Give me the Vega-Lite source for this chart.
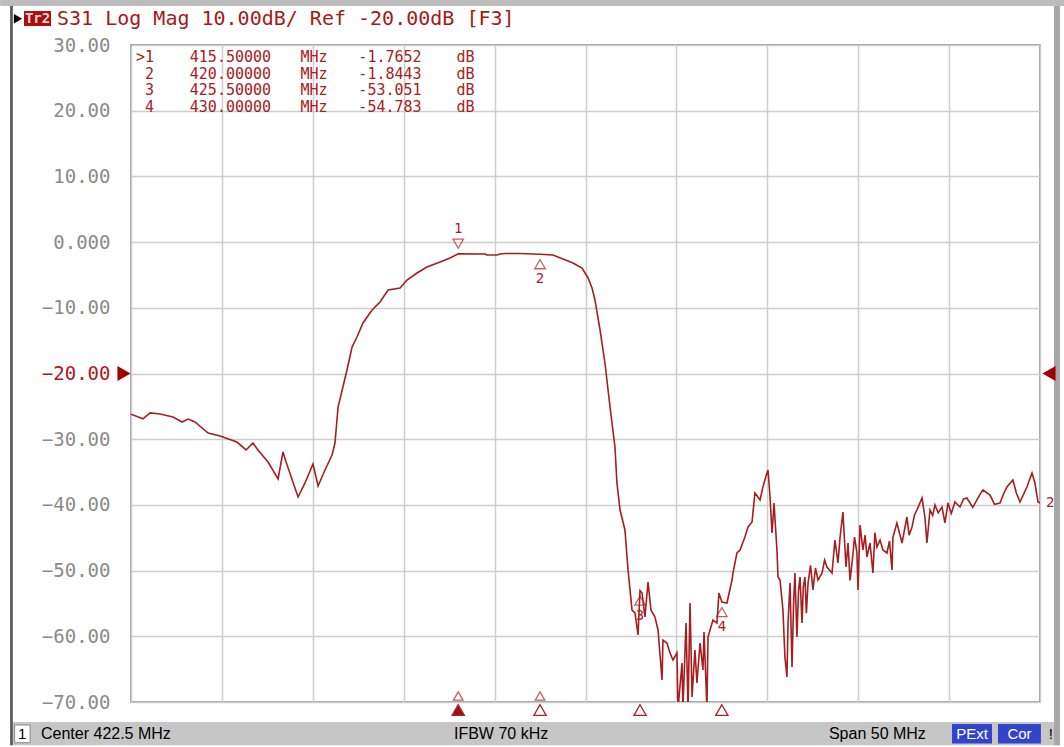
{
  "$schema": "https://vega.github.io/schema/vega-lite/v6.json",
  "width": 909,
  "height": 657,
  "autosize": {"type": "none"},
  "padding": {"left": 131, "top": 45, "right": 24, "bottom": 45},
  "background": "#ffffff",
  "config": {
    "view": {"stroke": "#808080", "strokeWidth": 1.5},
    "axis": {"domain": false, "ticks": false}
  },
  "datasets": {
    "trace": [
      {"f":397.50,"db":-26.2},{"f":398.16,"db":-26.9},{"f":398.55,"db":-26.0},{"f":399.10,"db":-26.16},{"f":399.81,"db":-26.62},
      {"f":400.31,"db":-27.38},{"f":400.64,"db":-26.93},{"f":401.02,"db":-27.38},{"f":401.74,"db":-29.06},{"f":402.40,"db":-29.51},
      {"f":403.33,"db":-30.43},{"f":403.83,"db":-31.64},{"f":404.21,"db":-30.58},{"f":404.48,"db":-31.64},{"f":405.04,"db":-33.47},
      {"f":405.59,"db":-36.06},{"f":405.86,"db":-31.95},{"f":406.03,"db":-33.47},{"f":406.69,"db":-38.80},{"f":407.07,"db":-36.66},
      {"f":407.51,"db":-33.77},{"f":407.79,"db":-37.12},{"f":408.17,"db":-34.69},{"f":408.56,"db":-32.41},{"f":408.72,"db":-30.58},
      {"f":408.89,"db":-25.10},{"f":409.05,"db":-23.27},{"f":409.38,"db":-19.47},{"f":409.66,"db":-15.97},{"f":409.93,"db":-14.45},
      {"f":410.26,"db":-12.31},{"f":410.76,"db":-10.33},{"f":411.20,"db":-9.12},{"f":411.64,"db":-7.29},{"f":412.30,"db":-6.99},
      {"f":412.68,"db":-5.77},{"f":413.23,"db":-4.70},{"f":413.78,"db":-3.79},{"f":414.50,"db":-3.03},{"f":415.05,"db":-2.42},
      {"f":415.50,"db":-1.77},{"f":416.97,"db":-1.81},{"f":417.08,"db":-1.96},{"f":417.63,"db":-1.96},{"f":417.80,"db":-1.81},
      {"f":418.07,"db":-1.74},{"f":418.90,"db":-1.74},{"f":420.00,"db":-1.84},{"f":420.71,"db":-1.96},{"f":421.26,"db":-2.57},
      {"f":421.81,"db":-3.18},{"f":422.31,"db":-3.94},{"f":422.64,"db":-5.46},{"f":422.86,"db":-6.99},{"f":423.02,"db":-8.81},
      {"f":423.30,"db":-13.38},{"f":423.57,"db":-18.40},{"f":423.85,"db":-25.10},{"f":424.12,"db":-31.19},{"f":424.23,"db":-36.67},
      {"f":424.40,"db":-40.78},{"f":424.67,"db":-43.82},{"f":424.84,"db":-49.91},{"f":425.06,"db":-56.00},{"f":425.22,"db":-56.45},
      {"f":425.39,"db":-59.80},{"f":425.50,"db":-53.05},{"f":425.61,"db":-53.41},{"f":425.77,"db":-57.06},{"f":425.94,"db":-51.74},
      {"f":426.10,"db":-56.00},{"f":426.32,"db":-57.06},{"f":426.49,"db":-59.04},{"f":426.71,"db":-66.65},{"f":426.76,"db":-60.56},
      {"f":426.98,"db":-61.02},{"f":427.15,"db":-62.54},{"f":427.31,"db":-63.61},{"f":427.53,"db":-62.54},{"f":427.59,"db":-71},
      {"f":427.81,"db":-64.07},{"f":427.86,"db":-71},{"f":428.03,"db":-57.98},{"f":428.14,"db":-71},{"f":428.25,"db":-54.93},
      {"f":428.36,"db":-69.24},{"f":428.52,"db":-62.09},{"f":428.63,"db":-67.11},{"f":428.80,"db":-61.02},{"f":428.96,"db":-65.13},
      {"f":429.02,"db":-59.35},{"f":429.18,"db":-71},{"f":429.24,"db":-60.11},{"f":429.40,"db":-58.59},{"f":429.51,"db":-57.52},
      {"f":429.73,"db":-57.98},{"f":429.84,"db":-53.41},{"f":430.00,"db":-54.78},{"f":430.28,"db":-54.93},{"f":430.56,"db":-51.43},
      {"f":430.61,"db":-50.37},{"f":430.83,"db":-47.32},{"f":431.00,"db":-46.86},{"f":431.27,"db":-44.89},{"f":431.44,"db":-43.36},
      {"f":431.66,"db":-42.60},{"f":431.82,"db":-38.19},{"f":432.10,"db":-39.25},{"f":432.26,"db":-37.28},{"f":432.43,"db":-35.60},
      {"f":432.54,"db":-34.69},{"f":432.65,"db":-38.80},{"f":432.76,"db":-44.28},{"f":432.87,"db":-39.71},{"f":433.03,"db":-46.86},
      {"f":433.09,"db":-50.98},{"f":433.20,"db":-51.43},{"f":433.36,"db":-56.00},{"f":433.47,"db":-63.15},{"f":433.58,"db":-66.19},
      {"f":433.64,"db":-58.0},{"f":433.75,"db":-51.89},{"f":433.86,"db":-64.68},{"f":433.94,"db":-55.5},{"f":434.02,"db":-50.37},
      {"f":434.13,"db":-60.11},{"f":434.22,"db":-53.0},{"f":434.30,"db":-50.98},{"f":434.41,"db":-57.98},{"f":434.48,"db":-52.5},
      {"f":434.57,"db":-50.98},{"f":434.65,"db":-56.5},{"f":434.74,"db":-51.89},{"f":434.88,"db":-49.2},{"f":435.01,"db":-52.95},
      {"f":435.15,"db":-49.6},{"f":435.29,"db":-51.43},{"f":435.51,"db":-50.37},{"f":435.65,"db":-48.4},{"f":435.78,"db":-49.45},
      {"f":436.06,"db":-50.37},{"f":436.22,"db":-45.34},{"f":436.39,"db":-48.84},{"f":436.50,"db":-45.0},{"f":436.66,"db":-41.08},
      {"f":436.83,"db":-49.45},{"f":436.94,"db":-45.80},{"f":437.05,"db":-51.5},{"f":437.16,"db":-48.84},{"f":437.30,"db":-44.9},
      {"f":437.43,"db":-47.32},{"f":437.49,"db":-52.95},{"f":437.60,"db":-43.06},{"f":437.76,"db":-46.86},{"f":437.88,"db":-44.6},
      {"f":437.98,"db":-47.93},{"f":438.15,"db":-45.80},{"f":438.31,"db":-50.37},{"f":438.42,"db":-44.2},{"f":438.53,"db":-46.41},
      {"f":438.70,"db":-45.34},{"f":438.86,"db":-46.86},{"f":439.08,"db":-47.32},{"f":439.22,"db":-45.5},{"f":439.36,"db":-49.91},
      {"f":439.41,"db":-44.89},{"f":439.63,"db":-42.75},{"f":439.91,"db":-45.80},{"f":440.18,"db":-41.84},{"f":440.30,"db":-44.6},
      {"f":440.46,"db":-43.36},{"f":440.60,"db":-41.5},{"f":440.73,"db":-40.78},{"f":441.01,"db":-38.95},{"f":441.17,"db":-41.84},
      {"f":441.28,"db":-45.80},{"f":441.45,"db":-40.78},{"f":441.60,"db":-41.6},{"f":441.72,"db":-40.02},{"f":441.90,"db":-41.2},
      {"f":442.11,"db":-40.32},{"f":442.27,"db":-42.75},{"f":442.44,"db":-39.71},{"f":442.62,"db":-41.3},{"f":442.82,"db":-39.56},
      {"f":443.10,"db":-40.32},{"f":443.30,"db":-39.1},{"f":443.48,"db":-38.95},{"f":443.80,"db":-40.4},{"f":444.03,"db":-39.25},
      {"f":444.20,"db":-38.4},{"f":444.36,"db":-37.73},{"f":444.75,"db":-38.50},{"f":445.00,"db":-39.9},{"f":445.30,"db":-39.71},
      {"f":445.50,"db":-38.3},{"f":445.68,"db":-37.28},{"f":446.01,"db":-36.21},{"f":446.20,"db":-38.2},{"f":446.40,"db":-39.56},
      {"f":446.78,"db":-37.28},{"f":447.06,"db":-35.15},{"f":447.22,"db":-36.67},{"f":447.39,"db":-39.56},{"f":447.50,"db":-39.71}
    ],
    "markers": [
      {"n":"1","f":415.5,"db":-1.7652},
      {"n":"2","f":420.0,"db":-1.8443},
      {"n":"3","f":425.5,"db":-53.051},
      {"n":"4","f":430.0,"db":-54.783}
    ]
  },
  "layer": [
    {
      "data": {"values": [{}]},
      "mark": {"type": "rect", "fill": "#c6c6c6"},
      "encoding": {"x": {"datum": 390.96}, "x2": {"datum": 448.5}, "y": {"datum": -73.04}, "y2": {"datum": -76.6}}
    },
    {
      "data": {"values": [{}]},
      "mark": {"type": "rect", "fill": "#bcbcbc"},
      "encoding": {"x": {"datum": 390.3}, "x2": {"datum": 448.82}, "y": {"datum": 36.85}, "y2": {"datum": 35.95}}
    },
    {
      "data": {"values": [{}]},
      "mark": {"type": "rect", "fill": "#5a5a5a"},
      "encoding": {"x": {"datum": 390.85}, "x2": {"datum": 391.0}, "y": {"datum": 35.95}, "y2": {"datum": -76.6}}
    },
    {
      "data": {"values": [{}]},
      "mark": {"type": "rect", "fill": "#a8a8a8"},
      "encoding": {"x": {"datum": 448.27}, "x2": {"datum": 448.6}, "y": {"datum": 35.95}, "y2": {"datum": -76.6}}
    },
    {
      "data": {"name": "trace"},
      "mark": {"type": "line", "color": "#a61e1e", "strokeWidth": 1.6, "clip": true},
      "encoding": {
        "x": {
          "field": "f", "type": "quantitative",
          "scale": {"domain": [397.5, 447.5], "nice": false, "zero": false},
          "axis": {
            "values": [397.5, 402.5, 407.5, 412.5, 417.5, 422.5, 427.5, 432.5, 437.5, 442.5, 447.5],
            "labels": false, "title": null, "grid": true, "gridColor": "#cdcdcd", "gridWidth": 1.5
          }
        },
        "y": {
          "field": "db", "type": "quantitative",
          "scale": {"domain": [-70, 30], "nice": false, "zero": false},
          "axis": {
            "values": [-70, -60, -50, -40, -30, -20, -10, 0, 10, 20, 30],
            "title": null, "grid": true, "gridColor": "#cdcdcd", "gridWidth": 1.5,
            "labelExpr": "datum.value == 0 ? '0.000' : format(datum.value, '.2f')",
            "labelFont": "DejaVu Sans Mono", "labelFontSize": 19, "labelPadding": 21,
            "labelColor": {"condition": {"test": "datum.value == -20", "value": "#b01818"}, "value": "#8a8a8a"}
          }
        }
      }
    },
    {
      "data": {"name": "markers"},
      "transform": [{"filter": "datum.n == '1'"}],
      "layer": [
        {"mark": {"type": "point", "shape": "triangle-down", "filled": false, "stroke": "#b02020", "strokeWidth": 1.3, "size": 110, "yOffset": -10},
         "encoding": {"x": {"field": "f", "type": "quantitative"}, "y": {"field": "db", "type": "quantitative"}}},
        {"mark": {"type": "text", "dy": -25, "font": "DejaVu Sans Mono", "fontSize": 14, "color": "#b02020"},
         "encoding": {"x": {"field": "f", "type": "quantitative"}, "y": {"field": "db", "type": "quantitative"}, "text": {"field": "n"}}}
      ]
    },
    {
      "data": {"name": "markers"},
      "transform": [{"filter": "datum.n != '1'"}],
      "layer": [
        {"mark": {"type": "point", "shape": "triangle-up", "filled": false, "stroke": "#b02020", "strokeWidth": 1.3, "size": 110, "yOffset": 10},
         "encoding": {"x": {"field": "f", "type": "quantitative"}, "y": {"field": "db", "type": "quantitative"}}},
        {"mark": {"type": "text", "dy": 25, "font": "DejaVu Sans Mono", "fontSize": 14, "color": "#b02020"},
         "encoding": {"x": {"field": "f", "type": "quantitative"}, "y": {"field": "db", "type": "quantitative"}, "text": {"field": "n"}}}
      ]
    },
    {
      "data": {"name": "markers"},
      "mark": {"type": "point", "shape": "triangle-up", "filled": true, "stroke": "#b02020", "strokeWidth": 1.3, "size": 150, "yOffset": 8},
      "encoding": {
        "x": {"field": "f", "type": "quantitative"},
        "y": {"datum": -70},
        "fill": {"condition": {"test": "datum.n == '1'", "value": "#a01010"}, "value": "#ffffff"},
        "opacity": {"value": 1}
      }
    },
    {
      "data": {"name": "markers"},
      "transform": [{"filter": "datum.n == '1' || datum.n == '2'"}],
      "mark": {"type": "point", "shape": "triangle-up", "filled": false, "stroke": "#b02020", "strokeWidth": 1.3, "size": 90, "yOffset": -6},
      "encoding": {"x": {"field": "f", "type": "quantitative"}, "y": {"datum": -70}}
    },
    {
      "data": {"values": [{}]},
      "mark": {"type": "point", "shape": "triangle-right", "filled": true, "fill": "#a00000", "strokeWidth": 0, "size": 230, "xOffset": -7, "opacity": 1},
      "encoding": {"x": {"datum": 397.5}, "y": {"datum": -20}}
    },
    {
      "data": {"values": [{}]},
      "mark": {"type": "point", "shape": "triangle-left", "filled": true, "fill": "#a00000", "strokeWidth": 0, "size": 230, "xOffset": 9, "opacity": 1},
      "encoding": {"x": {"datum": 447.5}, "y": {"datum": -20}}
    },
    {
      "data": {"values": [{}]},
      "mark": {"type": "text", "text": "2", "align": "left", "dx": 6, "font": "DejaVu Sans Mono", "fontSize": 14, "color": "#b02020"},
      "encoding": {"x": {"datum": 447.5}, "y": {"datum": -39.7}}
    },
    {
      "data": {"values": [{}]},
      "mark": {"type": "text", "text": [">1", "2", "3", "4"], "align": "right", "baseline": "middle", "font": "DejaVu Sans Mono", "fontSize": 15, "lineHeight": 16.7, "color": "#a82020"},
      "encoding": {"x": {"datum": 398.765}, "y": {"datum": 28.17}}
    },
    {
      "data": {"values": [{}]},
      "mark": {"type": "text", "text": ["415.50000", "420.00000", "425.50000", "430.00000"], "align": "center", "baseline": "middle", "font": "DejaVu Sans Mono", "fontSize": 15, "lineHeight": 16.7, "color": "#a82020"},
      "encoding": {"x": {"datum": 402.97}, "y": {"datum": 28.17}}
    },
    {
      "data": {"values": [{}]},
      "mark": {"type": "text", "text": ["MHz", "MHz", "MHz", "MHz"], "align": "center", "baseline": "middle", "font": "DejaVu Sans Mono", "fontSize": 15, "lineHeight": 16.7, "color": "#a82020"},
      "encoding": {"x": {"datum": 407.565}, "y": {"datum": 28.17}}
    },
    {
      "data": {"values": [{}]},
      "mark": {"type": "text", "text": ["-1.7652", "-1.8443", "-53.051", "-54.783"], "align": "center", "baseline": "middle", "font": "DejaVu Sans Mono", "fontSize": 15, "lineHeight": 16.7, "color": "#a82020"},
      "encoding": {"x": {"datum": 411.745}, "y": {"datum": 28.17}}
    },
    {
      "data": {"values": [{}]},
      "mark": {"type": "text", "text": ["dB", "dB", "dB", "dB"], "align": "center", "baseline": "middle", "font": "DejaVu Sans Mono", "fontSize": 15, "lineHeight": 16.7, "color": "#a82020"},
      "encoding": {"x": {"datum": 415.9}, "y": {"datum": 28.17}}
    },
    {
      "data": {"values": [{}]},
      "mark": {"type": "point", "shape": "triangle-right", "filled": true, "fill": "#000000", "strokeWidth": 0, "size": 90, "opacity": 1},
      "encoding": {"x": {"datum": 391.285}, "y": {"datum": 34.0}}
    },
    {
      "data": {"values": [{}]},
      "mark": {"type": "rect", "fill": "#a81010"},
      "encoding": {"x": {"datum": 391.615}, "x2": {"datum": 393.1}, "y": {"datum": 35.17}, "y2": {"datum": 32.89}}
    },
    {
      "data": {"values": [{}]},
      "mark": {"type": "text", "text": "Tr2", "align": "center", "baseline": "middle", "font": "DejaVu Sans Mono", "fontSize": 14, "fontWeight": "bold", "color": "#ffd0d0"},
      "encoding": {"x": {"datum": 392.36}, "y": {"datum": 34.03}}
    },
    {
      "data": {"values": [{}]},
      "mark": {"type": "text", "text": "S31 Log Mag 10.00dB/ Ref -20.00dB [F3]", "align": "left", "baseline": "middle", "font": "DejaVu Sans Mono", "fontSize": 20, "color": "#a81818"},
      "encoding": {"x": {"datum": 393.43}, "y": {"datum": 34.0}}
    },
    {
      "data": {"values": [{}]},
      "mark": {"type": "rect", "fill": "#ffffff", "stroke": "#888888", "strokeWidth": 1},
      "encoding": {"x": {"datum": 391.1}, "x2": {"datum": 391.95}, "y": {"datum": -73.5}, "y2": {"datum": -76.2}}
    },
    {
      "data": {"values": [{}]},
      "mark": {"type": "text", "text": "1", "align": "center", "baseline": "middle", "font": "Liberation Sans", "fontSize": 15, "color": "#000000"},
      "encoding": {"x": {"datum": 391.52}, "y": {"datum": -74.87}}
    },
    {
      "data": {"values": [{}]},
      "mark": {"type": "text", "text": "Center 422.5 MHz", "align": "left", "baseline": "middle", "font": "Liberation Sans", "fontSize": 16, "color": "#000000"},
      "encoding": {"x": {"datum": 392.55}, "y": {"datum": -74.87}}
    },
    {
      "data": {"values": [{}]},
      "mark": {"type": "text", "text": "IFBW 70 kHz", "align": "left", "baseline": "middle", "font": "Liberation Sans", "fontSize": 16, "color": "#000000"},
      "encoding": {"x": {"datum": 415.265}, "y": {"datum": -74.87}}
    },
    {
      "data": {"values": [{}]},
      "mark": {"type": "text", "text": "Span 50 MHz", "align": "left", "baseline": "middle", "font": "Liberation Sans", "fontSize": 16, "color": "#000000"},
      "encoding": {"x": {"datum": 435.89}, "y": {"datum": -74.87}}
    },
    {
      "data": {"values": [{}]},
      "mark": {"type": "rect", "fill": "#3344cc"},
      "encoding": {"x": {"datum": 442.66}, "x2": {"datum": 444.86}, "y": {"datum": -73.35}, "y2": {"datum": -76.3}}
    },
    {
      "data": {"values": [{}]},
      "mark": {"type": "rect", "fill": "#3344cc"},
      "encoding": {"x": {"datum": 445.19}, "x2": {"datum": 447.55}, "y": {"datum": -73.35}, "y2": {"datum": -76.3}}
    },
    {
      "data": {"values": [{}]},
      "mark": {"type": "text", "text": "PExt", "align": "center", "baseline": "middle", "font": "Liberation Sans", "fontSize": 15, "color": "#ffffff"},
      "encoding": {"x": {"datum": 443.76}, "y": {"datum": -74.87}}
    },
    {
      "data": {"values": [{}]},
      "mark": {"type": "text", "text": "Cor", "align": "center", "baseline": "middle", "font": "Liberation Sans", "fontSize": 15, "color": "#ffffff"},
      "encoding": {"x": {"datum": 446.37}, "y": {"datum": -74.87}}
    },
    {
      "data": {"values": [{}]},
      "mark": {"type": "text", "text": "!", "align": "center", "baseline": "middle", "font": "Liberation Sans", "fontSize": 15, "color": "#000000"},
      "encoding": {"x": {"datum": 448.1}, "y": {"datum": -74.87}}
    }
  ]
}
